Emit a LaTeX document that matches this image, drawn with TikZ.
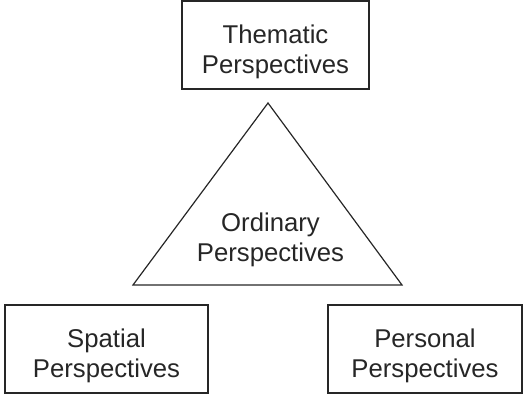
\documentclass[tikz,border=0pt]{standalone}
\usepackage{fontspec}
\setmainfont{Liberation Sans}
\usetikzlibrary{positioning}

\begin{document}
\begin{tikzpicture}[
    x=0.5pt, y=-0.5pt,
    box/.style={draw=black!85, line width=0.6pt, minimum width=#1, minimum height=44pt, inner sep=0pt},
    txt/.style={align=center, font=\fontsize{12.85}{15}\selectfont, text=black!85, inner sep=0pt},
  ]
  \useasboundingbox (0,0) rectangle (526,394);
  % Boxes
  \node[box=93.5pt] (thematic) at (275.5,45) {};
  \node[box=101.5pt] (spatial) at (106.5,349) {};
  \node[box=97pt] (personal) at (425,349) {};
  \node[txt] (thematictxt) at ([yshift=-3.5pt]thematic.center) {Thematic\\Perspectives};
  \node[txt] (spatialtxt) at ([yshift=-3.5pt]spatial.center) {Spatial\\Perspectives};
  \node[txt] (personaltxt) at ([yshift=-3.5pt]personal.center) {Personal\\Perspectives};
  % Triangle
  \coordinate (apex) at (268,103);
  \coordinate (left) at (133,285);
  \coordinate (right) at (402,285);
  \draw[black!85, line width=0.6pt] (apex) -- (left) -- (right) -- cycle;
  \node[txt] (ordinary) at (270.5,240) {Ordinary\\Perspectives};
\end{tikzpicture}
\end{document}
